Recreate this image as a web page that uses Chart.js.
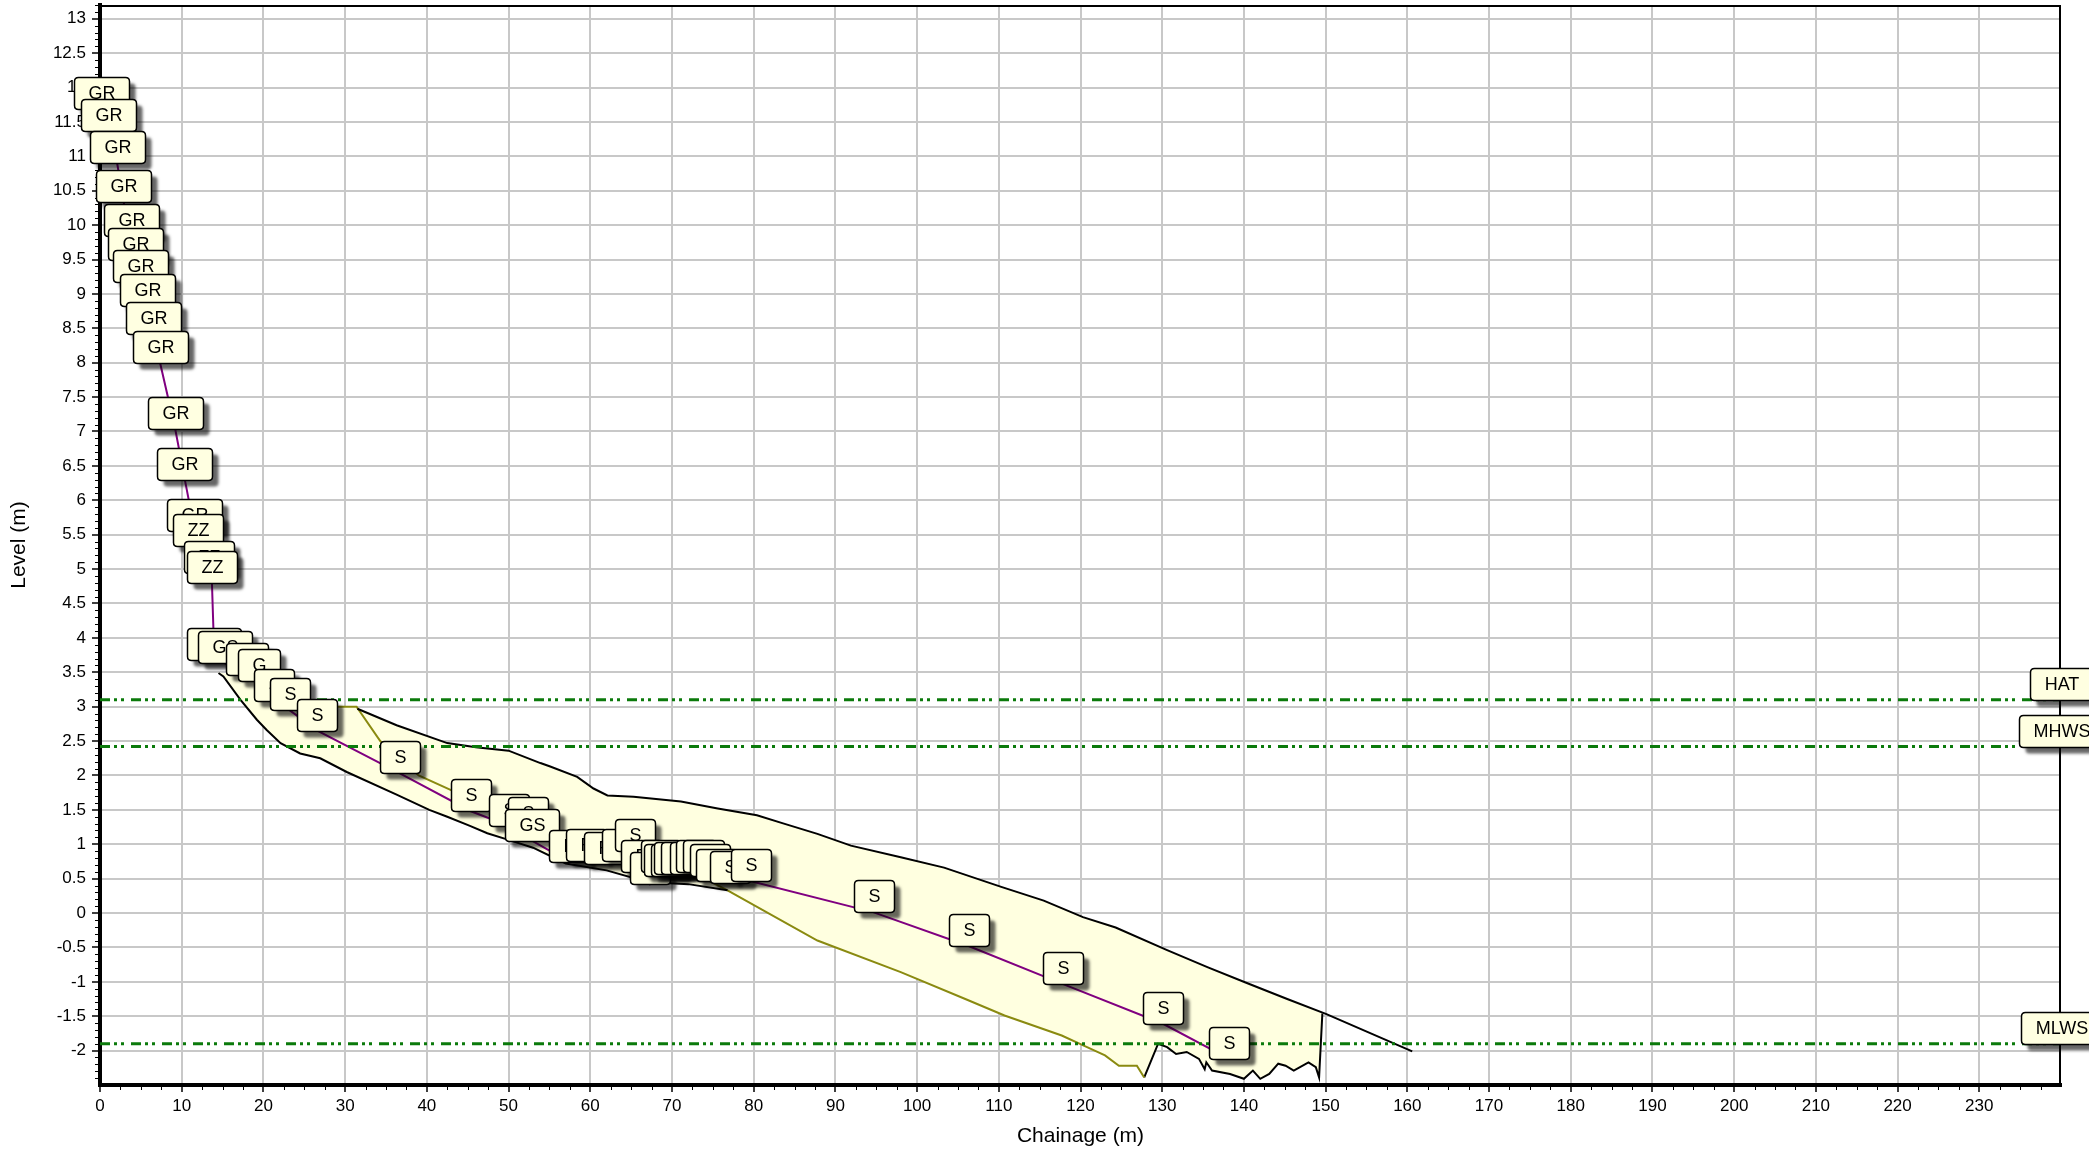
<!DOCTYPE html>
<html>
<head>
<meta charset="utf-8">
<title>Beach profile</title>
<script src="https://cdn.jsdelivr.net/npm/chart.js@4.4.1/dist/chart.umd.min.js"></script>
<style>
  html, body { margin: 0; padding: 0; background: #ffffff; }
  #wrap { width: 2089px; height: 1150px; }
</style>
</head>
<body>
<div id="wrap"><canvas id="profile" width="2089" height="1150"></canvas></div>
<script>
// Surveyed profile: chainage (m), level (m) and feature code of each point
const profileChainage = [0.2, 1.1, 2.1, 2.9, 3.9, 4.35, 5.0, 5.8, 6.6, 7.35, 9.2, 10.4, 11.6,
  12.0, 13.3, 13.7, 14.0, 15.3, 18.0, 19.4, 21.3, 23.2, 26.6, 36.7, 45.4, 50.0, 52.4, 52.9,
  57.5, 59.6, 61.8, 63.9, 65.5, 66.3, 67.3, 68.7, 69.1, 69.9, 70.3, 71.2, 72.2, 73.0, 73.9,
  74.7, 75.5, 77.1, 79.7, 94.7, 106.3, 117.8, 130.1, 138.2];
const profileLevel = [11.69, 11.37, 10.90, 10.33, 9.84, 9.50, 9.17, 8.83, 8.42, 8.00, 7.04, 6.29, 5.55,
  5.33, 4.94, 4.80, 3.68, 3.63, 3.46, 3.37, 3.08, 2.95, 2.65, 2.03, 1.48, 1.27, 1.22, 1.05,
  0.74, 0.76, 0.71, 0.76, 0.90, 0.59, 0.42, 0.59, 0.54, 0.54, 0.57, 0.57, 0.57, 0.59, 0.59,
  0.54, 0.46, 0.44, 0.46, 0.01, -0.48, -1.03, -1.61, -2.12];
const profileCode = ['GR', 'GR', 'GR', 'GR', 'GR', 'GR', 'GR', 'GR', 'GR', 'GR', 'GR', 'GR', 'GR',
  'ZZ', 'ZZ', 'ZZ', 'GS', 'GS', 'G', 'G', 'S', 'S', 'S', 'S', 'S', 'S', 'S', 'GS',
  'R', 'R', 'R', 'S', 'S', 'R', 'S', 'S', 'R', 'S', 'S', 'R', 'S', 'S', 'R',
  'S', 'R', 'S', 'S', 'S', 'S', 'S', 'S', 'S'];

// Upper envelope of the profile band
const upperChainage = [31.5, 36.3, 42.5, 46.0, 50.0, 53.9, 55.1, 58.4, 60.4, 62.1, 65.3, 71.1, 75.6,
  80.4, 83.7, 87.8, 91.9, 98.0, 103.3, 110.3, 115.5, 120.3, 124.3, 130.6, 135.6, 140.2, 145.3,
  150.1, 160.6];
const upperLevel = [2.97, 2.73, 2.47, 2.41, 2.36, 2.18, 2.13, 1.98, 1.81, 1.71, 1.69, 1.62, 1.52,
  1.42, 1.30, 1.15, 0.98, 0.81, 0.66, 0.38, 0.18, -0.06, -0.21, -0.54, -0.79, -1.01, -1.25,
  -1.47, -2.01];

// Lower envelope, landward part
const lowerChainage = [14.5, 15.1, 17.2, 19.2, 20.4, 22.1, 24.5, 26.95, 30.2, 36.3, 40.3, 42.5, 45.2,
  47.4, 49.8, 53.0, 57.0, 62.0, 67.0, 72.0, 76.8];
const lowerLevel = [3.49, 3.44, 3.10, 2.81, 2.66, 2.47, 2.32, 2.25, 2.05, 1.72, 1.50, 1.40, 1.27,
  1.16, 1.07, 0.95, 0.72, 0.62, 0.45, 0.42, 0.33];

// Earlier survey line
const oliveChainage = [29.0, 31.4, 34.3, 39.0, 42.9, 46.0, 50.0, 55.0, 60.0, 65.0, 70.0, 74.0, 76.8,
  87.8, 98.0, 105.9, 110.7, 117.7, 120.8, 123.0, 124.7, 126.9, 127.8];
const oliveLevel = [3.0, 3.0, 2.5, 2.0, 1.79, 1.6, 1.4, 1.15, 0.95, 0.8, 0.65, 0.5, 0.33,
  -0.40, -0.86, -1.25, -1.49, -1.78, -1.95, -2.07, -2.22, -2.22, -2.39];

// Seaward toe of the band (rock / scour)
const toeChainage = [127.8, 129.5, 130.6, 131.7, 133.0, 134.5, 135.2, 135.4, 136.1, 138.3, 140.0, 141.1,
  142.0, 143.1, 144.2, 145.1, 146.1, 147.9, 148.8, 149.2, 149.6];
const toeLevel = [-2.39, -1.90, -1.95, -2.05, -2.02, -2.12, -2.27, -2.17, -2.29, -2.34, -2.41, -2.29,
  -2.41, -2.34, -2.19, -2.22, -2.29, -2.17, -2.24, -2.39, -1.46];

// Crest of the band beneath the upper labels
const crestChainage = [14.5, 18.0, 22.0, 26.0, 29.0];
const crestLevel = [3.5, 3.42, 3.2, 3.05, 3.0];

// Tide levels
const tideNames = ['HAT', 'MHWS', 'MLWS'];
const tideLevels = [3.1, 2.42, -1.9];

// Axis ticks
const xTickValues = [0, 10, 20, 30, 40, 50, 60, 70, 80, 90, 100, 110, 120, 130, 140, 150, 160,
  170, 180, 190, 200, 210, 220, 230];
const yTickValues = [-2, -1.5, -1, -0.5, 0, 0.5, 1, 1.5, 2, 2.5, 3, 3.5, 4, 4.5, 5, 5.5, 6, 6.5,
  7, 7.5, 8, 8.5, 9, 9.5, 10, 10.5, 11, 11.5, 12, 12.5, 13];
const xRange = [0, 240];
const yRange = [-2.5, 13.2];

const pts = (xs, ys) => xs.map((x, i) => ({ x: x, y: ys[i] }));

// Closed outline of the shaded band
const bandOutline = [
  ...pts(crestChainage, crestLevel),
  ...pts(oliveChainage, oliveLevel).filter(p => p.x > 29 && p.x <= 31.4),
  ...pts(upperChainage, upperLevel).filter(p => p.x < 149.6),
  ...pts(toeChainage, toeLevel).reverse(),
  ...pts(oliveChainage, oliveLevel).filter(p => p.x >= 76.8 && p.x < 127.8).reverse(),
  ...pts(lowerChainage, lowerLevel).filter(p => p.x < 76.8).reverse()
];

const FONT = "'Liberation Sans', Arial, sans-serif";
const TIDE_GREEN = '#0b7a0b';
const TIDE_DASH = [10, 4, 3, 4, 3, 7];

const tideSets = tideNames.map((name, i) => ({
  label: name,
  data: [{ x: xRange[0], y: tideLevels[i] }, { x: xRange[1], y: tideLevels[i] }],
  showLine: true, borderColor: TIDE_GREEN, borderWidth: 3, borderDash: TIDE_DASH,
  pointRadius: 0, fill: false, order: 1,
  boxLabels: [null, name]
}));

// Cream call-out boxes with drop shadow, anchored by their bottom centre
function roundRect(ctx, x, y, w, h, r) {
  ctx.beginPath();
  ctx.moveTo(x + r, y);
  ctx.lineTo(x + w - r, y);
  ctx.quadraticCurveTo(x + w, y, x + w, y + r);
  ctx.lineTo(x + w, y + h - r);
  ctx.quadraticCurveTo(x + w, y + h, x + w - r, y + h);
  ctx.lineTo(x + r, y + h);
  ctx.quadraticCurveTo(x, y + h, x, y + h - r);
  ctx.lineTo(x, y + r);
  ctx.quadraticCurveTo(x, y, x + r, y);
  ctx.closePath();
}

const calloutPlugin = {
  id: 'callouts',
  afterDraw(chart) {
    const ctx = chart.ctx;
    ctx.save();
    ctx.font = '18px ' + FONT;
    ctx.textAlign = 'center';
    ctx.textBaseline = 'middle';
    chart.data.datasets.forEach((ds, di) => {
      if (!ds.boxLabels) return;
      const meta = chart.getDatasetMeta(di);
      meta.data.forEach((el, i) => {
        const text = ds.boxLabels[i];
        if (!text) return;
        const w = Math.round(ctx.measureText(text).width + 28);
        const h = 32;
        const left = Math.round(el.x - w / 2) + 0.5;
        const top = Math.round(el.y - h) + 0.5;
        ctx.save();
        ctx.shadowColor = 'rgba(0,0,0,0.6)';
        ctx.shadowBlur = 3;
        ctx.shadowOffsetX = 6;
        ctx.shadowOffsetY = 6;
        roundRect(ctx, left, top, w, h, 4);
        ctx.fillStyle = '#ffffe1';
        ctx.fill();
        ctx.restore();
        roundRect(ctx, left, top, w, h, 4);
        ctx.lineWidth = 1.5;
        ctx.strokeStyle = '#000';
        ctx.stroke();
        ctx.fillStyle = '#000';
        ctx.fillText(text, left + w / 2, top + h / 2 + 1);
      });
    });
    ctx.restore();
  }
};

// Frame on the top and right, plus minor tick marks on both axes
const framePlugin = {
  id: 'frame',
  afterDraw(chart) {
    const { ctx, chartArea: a } = chart;
    const xs = chart.scales.x, ys = chart.scales.y;
    ctx.save();
    ctx.strokeStyle = '#000';
    ctx.lineWidth = 2;
    ctx.beginPath();
    ctx.moveTo(a.left, a.top + 1);
    ctx.lineTo(a.right - 1, a.top + 1);
    ctx.lineTo(a.right - 1, a.bottom);
    ctx.stroke();
    ctx.lineWidth = 1;
    ctx.beginPath();
    for (let k = -25; k <= 132; k++) {
      if (k % 5 === 0) continue;
      const py = Math.round(ys.getPixelForValue(k / 10)) + 0.5;
      ctx.moveTo(a.left - 5, py);
      ctx.lineTo(a.left, py);
    }
    for (let k = 1; k < 96; k++) {
      if (k % 4 === 0) continue;
      const px = Math.round(xs.getPixelForValue(k * 2.5)) + 0.5;
      ctx.moveTo(px, a.bottom);
      ctx.lineTo(px, a.bottom + 5);
    }
    ctx.stroke();
    ctx.restore();
  }
};

new Chart(document.getElementById('profile'), {
  type: 'scatter',
  data: {
    datasets: [
      ...tideSets,
      {
        label: 'Profile', data: pts(profileChainage, profileLevel),
        showLine: true, borderColor: '#800080', borderWidth: 2, pointRadius: 0,
        fill: false, order: 2, boxLabels: profileCode
      },
      {
        label: 'Upper', data: pts(upperChainage, upperLevel),
        showLine: true, borderColor: '#000000', borderWidth: 2, pointRadius: 0, fill: false, order: 3
      },
      {
        label: 'Lower', data: pts(lowerChainage, lowerLevel),
        showLine: true, borderColor: '#000000', borderWidth: 2, pointRadius: 0, fill: false, order: 3
      },
      {
        label: 'Previous', data: pts(oliveChainage, oliveLevel),
        showLine: true, borderColor: '#8a8a10', borderWidth: 2, pointRadius: 0, fill: false, order: 3
      },
      {
        label: 'Toe', data: pts(toeChainage, toeLevel),
        showLine: true, borderColor: '#000000', borderWidth: 2, pointRadius: 0, fill: false, order: 3
      },
      {
        label: 'Band', data: bandOutline,
        showLine: true, borderWidth: 0, borderColor: 'rgba(0,0,0,0)',
        backgroundColor: '#ffffe0', pointRadius: 0, fill: 'shape', order: 10
      }
    ]
  },
  options: {
    responsive: false,
    animation: false,
    devicePixelRatio: 1,
    layout: { padding: { top: 5, right: 28, bottom: 0, left: 0 } },
    plugins: { legend: { display: false }, tooltip: { enabled: false } },
    scales: {
      x: {
        type: 'linear', min: xRange[0], max: xRange[1],
        afterBuildTicks: s => { s.ticks = xTickValues.map(v => ({ value: v })); },
        afterFit: s => { s.height = 65; s.paddingLeft = 0; s.paddingRight = 0; },
        ticks: { color: '#000', font: { family: FONT, size: 17 }, padding: 4, maxRotation: 0, autoSkip: false,
                 callback: v => String(v) },
        grid: { color: '#c8c8c8', lineWidth: 2, tickColor: '#000', tickLength: 7, tickWidth: 1.5 },
        border: { color: '#000', width: 4 },
        title: { display: true, text: 'Chainage (m)', color: '#000', font: { family: FONT, size: 21 },
                 padding: { top: 0, bottom: 1 } }
      },
      y: {
        type: 'linear', min: yRange[0], max: yRange[1],
        afterBuildTicks: s => { s.ticks = yTickValues.map(v => ({ value: v })); },
        afterFit: s => { s.width = 100; s.paddingTop = 0; s.paddingBottom = 0; },
        ticks: { color: '#000', font: { family: FONT, size: 17 }, padding: 6, autoSkip: false,
                 callback: v => String(v) },
        grid: { color: '#c8c8c8', lineWidth: 2, tickColor: '#000', tickLength: 8, tickWidth: 1.5 },
        border: { color: '#000', width: 4 },
        title: { display: true, text: 'Level (m)', color: '#000', font: { family: FONT, size: 21 },
                 padding: { top: 7, bottom: 0 } }
      }
    }
  },
  plugins: [framePlugin, calloutPlugin]
});
</script>
</body>
</html>
